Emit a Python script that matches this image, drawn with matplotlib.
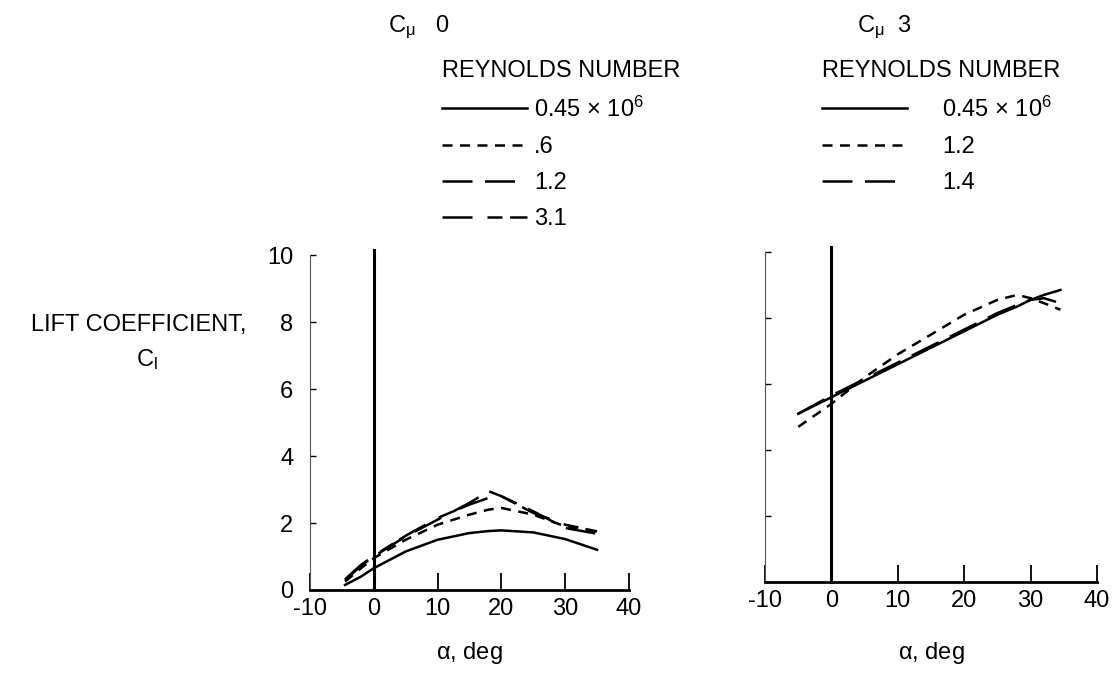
import matplotlib

matplotlib.use("Agg")
import matplotlib.pyplot as plt

plt.rcParams["font.family"] = ["Liberation Sans", "DejaVu Sans"]
plt.rcParams["mathtext.fontset"] = "custom"
plt.rcParams["mathtext.rm"] = "Liberation Sans"
plt.rcParams["mathtext.it"] = "Liberation Sans"
plt.rcParams["axes.unicode_minus"] = False

# angle of attack, deg
alpha_l = [-4.5, -2, 0, 5, 10, 15, 18, 20, 25, 30, 35]
alpha_r = [-5, 0, 5, 10, 15, 20, 25, 28, 30, 32, 34.5]

# C_mu = 0, lift coefficient by Reynolds number
cl_045_l = [0.15, 0.4, 0.65, 1.15, 1.5, 1.7, 1.76, 1.78, 1.72, 1.52, 1.2]
cl_06_l = [0.25, 0.65, 0.95, 1.5, 1.95, 2.25, 2.4, 2.45, 2.25, 1.9, 1.7]
cl_12_l = [0.3, 0.72, 1.0, 1.6, 2.1, 2.6, 2.95, 2.8, 2.35, 1.85, 1.68]
cl_31_l = [0.32, 0.75, 1.02, 1.62, 2.15, 2.55, 2.75, 2.8, 2.3, 1.95, 1.75]

# C_mu = 3
cl_045_r = [5.1, 5.6, 6.1, 6.6, 7.1, 7.6, 8.1, 8.35, 8.55, 8.7, 8.85]
cl_12_r = [4.7, 5.4, 6.2, 6.9, 7.5, 8.1, 8.55, 8.7, 8.6, 8.45, 8.25]
cl_14_r = [5.1, 5.65, 6.15, 6.65, 7.15, 7.65, 8.15, 8.4, 8.55, 8.6, 8.45]

labels_l = [r"0.45 $\times$ 10$^6$", ".6", "1.2", "3.1"]
labels_r = [r"0.45 $\times$ 10$^6$", "1.2", "1.4"]

xticks = [-10, 0, 10, 20, 30, 40]
yticks = [0, 2, 4, 6, 8, 10]

FS = 17
fig = plt.figure(figsize=(11.17, 6.78), dpi=100)
ax1 = fig.add_axes([0.2775, 0.1298, 0.2856, 0.494])
ax2 = fig.add_axes([0.6849, 0.1416, 0.2972, 0.4867])

styles_l = ["-", (0, (4, 3)), (0, (12, 5)), (0, (12, 6, 6, 3))]
styles_r = ["-", (0, (4, 3)), (0, (12, 5))]

for cl, ls, lab in zip([cl_045_l, cl_06_l, cl_12_l, cl_31_l], styles_l, labels_l):
    ax1.plot(alpha_l, cl, color="black", lw=1.8, linestyle=ls, label=lab)
for cl, ls, lab in zip([cl_045_r, cl_12_r, cl_14_r], styles_r, labels_r):
    ax2.plot(alpha_r, cl, color="black", lw=1.8, linestyle=ls, label=lab)

for ax in (ax1, ax2):
    ax.set_xlim(-10, 40)
    ax.set_ylim(0, 10)
    ax.plot([0, 0], [0, 10.15], color="black", lw=2.2, clip_on=False)
    ax.spines["top"].set_visible(False)
    ax.spines["right"].set_visible(False)
    ax.spines["left"].set_linewidth(0.8)
    ax.spines["left"].set_color("#555555")
    ax.spines["bottom"].set_linewidth(2)
    ax.set_xticks(xticks)
    ax.tick_params(axis="x", direction="in", length=12, width=1.3, labelsize=FS, pad=6)
    ax.tick_params(axis="y", direction="in", length=4, width=1, labelsize=FS, pad=12)
    ax.set_yticks(yticks)
    ax.set_xlabel(r"$\alpha$, deg", fontsize=FS, labelpad=14)

ax2.xaxis.labelpad = 20
ax2.set_yticklabels([])

leg_kw = dict(loc="upper left", bbox_transform=fig.transFigure, frameon=False,
              fontsize=FS, handlelength=3.6, labelspacing=0.6, borderaxespad=0,
              title="REYNOLDS NUMBER", title_fontsize=FS, alignment="left")
ax1.legend(bbox_to_anchor=(0.387, 0.925), handletextpad=0.3, **leg_kw)
ax2.legend(bbox_to_anchor=(0.727, 0.925), handletextpad=1.5, **leg_kw)

fig.text(0.347, 0.96, r"C$_{\mu}$   0", fontsize=FS, va="center")
fig.text(0.767, 0.96, r"C$_{\mu}$  3", fontsize=FS, va="center")

fig.text(0.028, 0.52, "LIFT COEFFICIENT,", fontsize=FS, va="center")
fig.text(0.122, 0.47, r"C$_l$", fontsize=FS, va="center")

fig.savefig("out.png", dpi=100)
plt.close(fig)
